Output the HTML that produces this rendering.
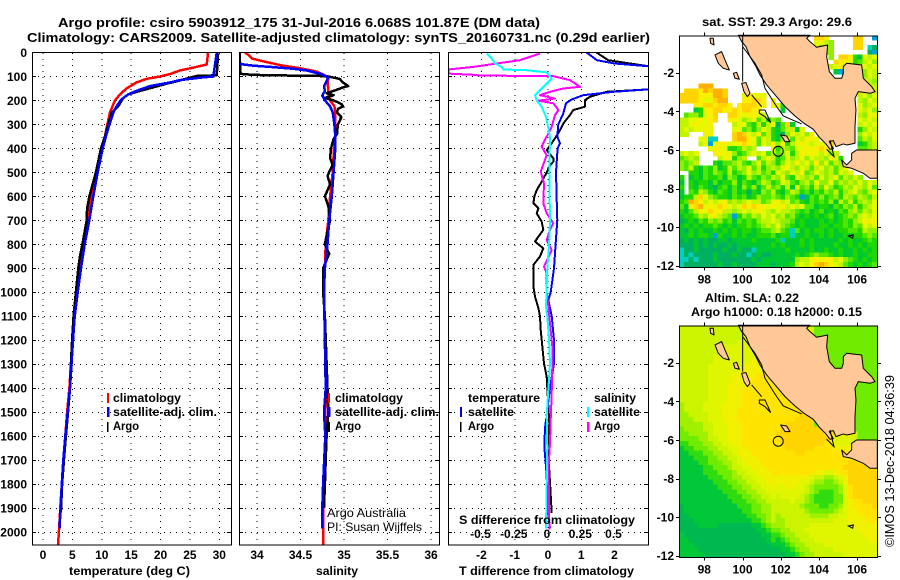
<!DOCTYPE html>
<html>
<head>
<meta charset="utf-8">
<title>Argo profile 5903912_175</title>
<style>
html,body{margin:0;padding:0;background:#fff;width:900px;height:580px;overflow:hidden}
svg{display:block}
text{font-family:"Liberation Sans",sans-serif;fill:#000}
.b{font-weight:700;font-size:12px}
.t{font-weight:700;font-size:13px}
.r{font-size:12px}
</style>
</head>
<body>
<svg id="chart" xmlns="http://www.w3.org/2000/svg" width="900" height="580" viewBox="0 0 900 580">
<defs>
<clipPath id="clip-t"><rect x="32" y="52" width="199" height="493"/></clipPath>
<clipPath id="clip-s"><rect x="239" y="52" width="200" height="493"/></clipPath>
<clipPath id="clip-d"><rect x="448" y="52" width="200" height="493"/></clipPath>
<clipPath id="clip-m1"><rect x="679" y="35" width="198" height="232"/></clipPath>
<clipPath id="clip-m2"><rect x="679" y="325" width="198" height="232"/></clipPath>
</defs>
<rect width="900" height="580" fill="#fff"/>
<text class="t" x="58" y="27" textLength="482" lengthAdjust="spacingAndGlyphs">Argo profile: csiro 5903912_175 31-Jul-2016 6.068S 101.87E (DM data)</text>
<text class="t" x="27" y="42" textLength="623" lengthAdjust="spacingAndGlyphs">Climatology: CARS2009. Satellite-adjusted climatology: synTS_20160731.nc (0.29d earlier)</text>
<g id="plots"></g>
<text class="b" x="69" y="575" textLength="121" lengthAdjust="spacingAndGlyphs">temperature (deg C)</text>
<text class="b" x="316" y="575" textLength="42" lengthAdjust="spacingAndGlyphs">salinity</text>
<text class="b" x="459" y="575" textLength="175" lengthAdjust="spacingAndGlyphs">T difference from climatology</text>
<text class="b" x="459" y="524" textLength="176" lengthAdjust="spacingAndGlyphs">S difference from climatology</text>

<g>
<rect x="107" y="393" width="2" height="10" fill="#f00"/><text class="b" x="113" y="402" textLength="68" lengthAdjust="spacingAndGlyphs">climatology</text>
<rect x="107" y="407" width="2.5" height="10" fill="#00f"/><text class="b" x="113" y="416" textLength="104" lengthAdjust="spacingAndGlyphs">satellite-adj. clim.</text>
<rect x="107" y="422" width="1.5" height="10" fill="#000"/><text class="b" x="113" y="430" textLength="26" lengthAdjust="spacingAndGlyphs">Argo</text>
</g>
<g>
<rect x="328" y="393" width="2" height="10" fill="#f00"/><text class="b" x="335" y="402" textLength="68" lengthAdjust="spacingAndGlyphs">climatology</text>
<rect x="328" y="407" width="2.5" height="10" fill="#00f"/><text class="b" x="335" y="416" textLength="104" lengthAdjust="spacingAndGlyphs">satellite-adj. clim.</text>
<rect x="328" y="422" width="2" height="10" fill="#000"/><text class="b" x="335" y="430" textLength="26" lengthAdjust="spacingAndGlyphs">Argo</text>
</g>
<g>
<text class="b" x="468" y="402" textLength="72" lengthAdjust="spacingAndGlyphs">temperature</text>
<rect x="460" y="407" width="2" height="10" fill="#00f"/><text class="b" x="468" y="416" textLength="46" lengthAdjust="spacingAndGlyphs">satellite</text>
<rect x="460" y="422" width="1.5" height="10" fill="#000"/><text class="b" x="468" y="430" textLength="26" lengthAdjust="spacingAndGlyphs">Argo</text>
<text class="b" x="594" y="402" textLength="42" lengthAdjust="spacingAndGlyphs">salinity</text>
<rect x="587" y="407" width="2.5" height="10" fill="#0ff"/><text class="b" x="594" y="416" textLength="46" lengthAdjust="spacingAndGlyphs">satellite</text>
<rect x="587" y="422" width="2.5" height="10" fill="#f0f"/><text class="b" x="594" y="430" textLength="26" lengthAdjust="spacingAndGlyphs">Argo</text>
</g>
<text class="r" x="327" y="517" textLength="79" lengthAdjust="spacingAndGlyphs">Argo Australia</text>
<text class="r" x="327" y="531" textLength="95" lengthAdjust="spacingAndGlyphs">PI: Susan Wijffels</text>

<text class="b" x="702" y="26" textLength="150" lengthAdjust="spacingAndGlyphs">sat. SST: 29.3 Argo: 29.6</text>
<text class="b" x="705" y="302" textLength="94" lengthAdjust="spacingAndGlyphs">Altim. SLA: 0.22</text>
<text class="b" x="691" y="316" textLength="171" lengthAdjust="spacingAndGlyphs">Argo h1000: 0.18 h2000: 0.15</text>
<text font-size="13" transform="translate(894,547) rotate(-90)" textLength="172" lengthAdjust="spacingAndGlyphs">©IMOS 13-Dec-2018 04:36:39</text>
</svg>

<script>
// ---------- profile data (depth in dbar, temperature in deg C, salinity in PSU) ----------
const yDepthTicks = [0,100,200,300,400,500,600,700,800,900,1000,1100,1200,1300,1400,1500,1600,1700,1800,1900,2000];
const tempTicks = [0,5,10,15,20,25,30];
const salTicks = [34,34.5,35,35.5,36];
const salTickLabels = ['34','34.5','35','35.5','36'];
const diffTicks = [-2,-1,0,1,2];
const sDiffTicks = [-0.5,-0.25,0,0.25,0.5];
const sDiffTickLabels = ['-0.5','-0.25','0','0.25','0.5'];

const climTDepth = [0,50,60,75,90,100,110,125,150,175,200,250,300,350,400,500,600,700,800,900,1000,1100,1200,1300,1400,1500,1600,1700,1800,1900,2000,2055];
const climTValues = [28.1,27.85,26.1,23.3,21.6,19.9,17.6,15.9,14.2,13.1,12.25,11.4,10.95,10.55,9.87,9.0,8.17,7.55,6.86,6.3,5.84,5.4,5.05,4.75,4.5,4.1,3.8,3.46,3.2,2.95,2.7,2.55];
const satTDepth = [0,100,105,115,125,140,160,175,190,200,225,250,300,350,400,500,600,700,800,900,1000,1100,1200,1300,1400,1500,1600,1700,1800,1900,1985];
const satTValues = [29.55,28.98,26.7,23.3,21.6,18.2,15.9,14.5,13.67,13.2,12.5,12,11.3,10.7,10.15,9.3,8.56,7.88,7.09,6.47,5.9,5.4,5.1,4.85,4.6,4.2,3.8,3.45,3.2,3,2.8];
const argoTDepth = [5,95,98,105,120,130,145,160,175,190,200,225,250,300,350,400,500,600,650,700,800,850,900,1000,1100,1200,1300,1400,1500,1600,1700,1800,1920];
const argoTValues = [29.8,29.55,26.15,25,22.75,21.05,18.8,16.5,14.5,13.67,13.4,12.8,11.7,11.1,10.55,9.87,9,7.9,7.5,7.43,6.7,6.3,6.0,5.6,5.2,4.95,4.75,4.6,4.25,3.9,3.55,3.25,3.05];

const climSDepth = [0,10,25,40,55,65,80,95,110,130,150,175,200,225,250,300,350,400,500,600,700,800,900,1000,1400,1500,1700,1900,2055];
const climSValues = [33.86,33.9,33.94,34.11,34.3,34.49,34.69,34.78,34.82,34.81,34.82,34.82,34.84,34.89,34.9,34.9,34.9,34.885,34.87,34.84,34.82,34.79,34.78,34.77,34.8,34.785,34.78,34.76,34.76];
const satSDepth = [48,55,60,68,75,90,105,120,140,160,180,200,225,250,300,350,400,500,600,700,800,900,1000,1400,1500,1600,1800,1900,1985];
const satSValues = [33.8,33.96,34.15,34.42,34.57,34.74,34.82,34.8,34.77,34.78,34.75,34.78,34.84,34.87,34.89,34.9,34.9,34.88,34.86,34.83,34.81,34.78,34.77,34.79,34.77,34.785,34.76,34.75,34.75];
const argoSDepth = [0,88,91,95,97,100,110,125,140,145,155,170,178,190,200,215,225,235,250,270,300,340,360,400,440,470,490,515,550,600,640,700,730,800,840,900,1000,1100,1400,1500,1600,1700,1800,1900];
const argoSValues = [33.8,33.81,33.85,34.11,34.69,34.82,34.95,34.99,35.05,34.99,34.92,34.8,34.88,34.78,34.88,34.97,34.99,34.93,34.92,34.97,34.93,34.92,34.88,34.85,34.84,34.87,34.84,34.81,34.84,34.78,34.82,34.84,34.82,34.78,34.83,34.76,34.76,34.78,34.81,34.82,34.8,34.79,34.78,34.77];

const diffSatTDepth = [0,32,46,57,70,140,154,164,178,196,212,254,300,351,379,400,500,600,700,800,900,1000,1032,1100,1200,1297,1400,1490,1567,1644,1713,1769,1894,1985];
const diffSatTValues = [1.16,1.47,2,3,5,5,3,1.97,1.06,0.71,0.54,0.46,0.31,0.28,0.36,0.29,0.24,0.26,0.28,0.23,0.18,0.08,0.01,0.11,0.18,0.18,0.06,-0.02,-0.09,-0.11,-0.07,-0.04,-0.02,0.06];
const diffArgoTDepth = [0,32,46,57,70,140,154,164,185,199,226,240,261,296,324,358,379,407,442,455,476,500,539,574,600,629,650,671,706,740,768,789,817,851,886,921,976,1018,1067,1100,1158,1200,1297,1353,1400,1547,1672,1867,1922];
const diffArgoTValues = [1.46,1.81,2.47,3.02,5,5,3,1.76,1.26,1.11,1.11,0.76,0.66,0.46,0.36,0.21,0.11,-0.04,0.16,0.16,0.04,-0.04,-0.19,-0.34,-0.41,-0.44,-0.29,-0.34,-0.19,-0.14,-0.29,-0.39,-0.14,-0.24,-0.44,-0.44,-0.44,-0.39,-0.29,-0.24,-0.22,-0.19,-0.12,-0.04,-0.02,0.04,0.01,0.09,0.11];
const diffSatSDepth = [4,25,46,60,71,74,83,108,129,157,178,199,226,268,351,500,700,800,900,1060,1100,1200,1297,1400,1519,1644,1811,1985];
const diffSatSValues = [-0.461,-0.424,-0.398,-0.348,-0.336,-0.16,-0.01,0.028,-0.01,-0.06,-0.098,-0.085,-0.048,-0.015,0.015,0.01,0.015,0.008,-0.005,-0.015,-0.005,0.008,0.015,0.003,-0.01,-0.005,-0.01,-0.015];
const diffArgoSDepth = [4,18,32,46,60,71,88,93,96,99,115,129,143,150,164,178,192,201,212,240,261,310,351,393,428,497,546,629,671,713,740,782,824,893,921,1004,1060,1100,1242,1421,1532,1630,1741,1867,1990];
const diffArgoSValues = [-0.06,-0.135,-0.21,-0.386,-0.561,-0.75,-0.75,-0.561,-0.511,0.04,0.165,0.203,0.241,0.115,0.015,-0.06,0.053,-0.073,0.04,0.078,0.053,0.028,-0.01,-0.048,-0.01,-0.055,-0.03,-0.035,-0.01,0.04,0.015,-0.01,0.028,-0.03,-0.01,-0.01,0.003,0.01,0.035,0.028,0.02,0.015,0.003,0.008,0.01];

// ---------- map data: one character per 0.25 degree cell, '.' = no data ----------
const sstRows = [
"............................887.....88..b",
"............................6754....88...",
"............................6344....88.c0",
"..............................44.......0b",
"...............................4.88721656",
"................................877623564",
"...............................5675...656",
"................................1bb...465",
".....................................5465",
"......................................654",
"....999"+"..............................."+"455",
".888798998"+"..........................."+"6565",
"8888777998...67766"+"..................."+"5646",
"8888766899...77887.7"+"................."+"5465",
"...77887887.788877.762"+"..............."+"6456",
"...12778877878877....1"+"..............."+"6564",
".3442678..88767765.."+"................."+"5476",
"55667678..77645635243"+"................"+"6565",
"5567667....566325256"+"0381"+"............."+"5656",
"5656676....6634"+"2"+"4652"+"135516"+"..........."+"2465",
"55...67....8986573 52".replace(' ','')+"10465647"+"........."+"4656",
"....67cc...899"+"7636"+"52"+"1473"+"65776"+"........"+"3546",
"....56b677667876"+"3657"+"4725"+"67656"+"668"+"....."+"1245",
"......6776223545"+"..."+"7"+"25436"+"6767"+"875"+"....."+"3345",
"5656...7767423"+"5"+"6563"+"5"+"34625"+"76765"+"645"+"........",
"3454....56724"+"5"+".."+"3565"+"2364"+"56465"+"5476"+"2"+".......",
"4345...2133453246"+"3542"+"4657"+"5647"+"4635"+"4"+".......",
"43"+"52"+"13"+"2"+"4"+"1"+"253"+"546"+"3524"+"5467"+"5465"+"3564"+"5356"+"......",
".."+"2213"+"2432"+"5234"+"6453"+"4265"+"4657"+"3465"+"4536"+"56"+".....",
"2."+"1213"+"2231"+"4312"+"5324"+"3546"+"3265"+"4536"+"4563"+"5464"+"...",
"1."+"2122"+"1312"+"2413"+"2135"+"4236"+"5324"+"5364"+"4635"+"4546"+"465",
"2."+"2132"+"1023"+"1314"+"2413"+"5342"+"5163"+"4253"+"6423"+"5465"+"463",
"1."+"3254"+"2132"+"1312"+"0214"+"3521"+"3542"+"3132"+"4352"+"4564"+"356",
"12"+"2586"+"4322"+"1323"+"1243"+"3432"+"432b"+"1324"+"2342"+"5435"+"435",
"23"+"9875"+"6567"+"4545"+"6553"+"4675"+"6342"+"1323"+"2415"+"3524"+"546",
"31"+"7896"+"7687"+"6568"+"7877"+"6767"+"5656"+"3312"+"2132"+"4352"+"456",
"21"+"3576"+"8775"+"5456"+"5676"+"5465"+"5432"+"3123"+"1213"+"2453"+"546",
"12"+"2354"+"6754"+"3b24"+"3546"+"5645"+"3421"+"2121"+"2312"+"3435"+"656",
"01"+"2132"+"4342"+"3132"+"3245"+"5654"+"4312"+"1112"+"1212"+"3245"+"767",
"12"+"1212"+"2321"+"2122"+"3234"+"5464"+"3212"+"1112"+"2122"+"3243"+"656",
"10"+"2121"+"1212"+"1212"+"2123"+"3453"+"2c31"+"2122"+"1212"+"2332"+"544",
"11"+"2122"+"1b21"+"1212"+"1122"+"2312"+"2c11"+"2112"+"1211"+"2122"+"343",
"01"+"0101"+"0011"+"0111"+"1211"+"112c"+"1112"+"1211"+"1112"+"1211"+"232",
"00"+"0101"+"0100"+"1011"+"1111"+"1212"+"1112"+"1211"+"1121"+"1212"+"122",
"c0"+"0100"+"0001"+"0010"+"0c11"+"1111"+"2111"+"1211"+"2112"+"1121"+"212",
"c0"+"c000"+"0100"+"0100"+"c010"+"0111"+"1121"+"2343"+"3212"+"1121"+"122",
"cc"+"0c00"+"0100"+"0000"+"0101"+"1111"+"1145"+"5676"+"7756"+"4321"+"212",
"c0"+"0000"+"0010"+"0100"+"0011"+"1011"+"1256"+"5789"+"8765"+"3212"+"123"
];
const slaRows = [
"55555555555555666666"+"666666663333333333333",
"55555555555555666666"+"666666663333333333333",
"55555555555556666666"+"666666663333333333333",
"55555555555566666666"+"666666663333333333333",
"55555555666666666667"+"777777773333333333333",
"55555555666666666677"+"777777773333333333333",
"55555556666666666777"+"777777773333333333333",
"55555556666666677777"+"777777773333333333333",
"55555566666667777777"+"888888883333333333333",
"55555566666677777788"+"888888883333333333333",
"55555566666777778888"+"888888883333333333333",
"55555566666777788888"+"888888883333333333333",
"55555566667777888888"+"888888883333333333333",
"55555566667778888888"+"888888883333333333333",
"55555566667778888888"+"888888883333333333333",
"55555566667778888888"+"888888883333333333333",
"45555666677778888888"+"888888883333333333333",
"45555666677788888888"+"888888883333333333333",
"44555566677788888888"+"888889993333333333333",
"44455566677788888888"+"888899993333333333333",
"44444556667778888888"+"889999993333333333333",
"34444556667778888888"+"899999999933333333333",
"33444456667778888888"+"99999999"+"998866666"+"3333",
"33334455667778888888"+"899999999998"+"66665"+"3333",
"22333445566778888888"+"899999999988"+"66666"+"8888",
"12233344556677888888"+"889999998888"+"77777"+"8888",
"11222334455677788888"+"888899888888"+"88888"+"8888",
"11122233445567778888"+"888888888888"+"88889"+"9999",
"11112233344566777888"+"888888888888"+"88899"+"9999",
"11111223334556677788"+"888888888888"+"88999"+"9999",
"11111222333455667778"+"888888887766"+"78899"+"9999",
"11111122233445566777"+"777777765544"+"56799"+"9999",
"11111112223344556677"+"777776654433"+"45799"+"9999",
"11111111222334455667"+"667766543333"+"34689"+"9999",
"11111111122233445566"+"666666543222"+"34689"+"9999",
"11111111112223344556"+"566665432222"+"33689"+"9999",
"11111111111222334455"+"555655432222"+"33678"+"8999",
"01111111111122233445"+"555554333223"+"34678"+"8889",
"01111111111112233445"+"555555433333"+"45677"+"8888",
"00111111111111223345"+"455555544445"+"56677"+"7888",
"00011111111111122345"+"445555555555"+"66677"+"7788",
"00001111000000011234"+"445555566666"+"66667"+"7777",
"00000000000000001123"+"344555666666"+"66666"+"7777",
"10000000000000000112"+"234455566666"+"66666"+"6777",
"11000000000000000012"+"123445556666"+"66666"+"6677",
"11100000000000000001"+"112344555566"+"66666"+"6666",
"11110000000000000000"+"011234455555"+"66666"+"6666",
"11111000000000000000"+"001123445555"+"55666"+"6666"
];
const lonTicks = [98,100,102,104,106];
const latTicks = [-2,-4,-6,-8,-10,-12];
const argoLon = 101.87;
const argoLat = -6.068;
const sstPalette = {'0':'#00b060','1':'#00c830','2':'#20d800','3':'#50e800','4':'#90f000','5':'#c0f400','6':'#e4f800','7':'#f8f000','8':'#ffd400','9':'#ffb000','b':'#00a0e0','c':'#00d0c0'};
const slaPalette = {'0':'#00b850','1':'#00c838','2':'#30dc10','3':'#70ec00','4':'#a0f000','5':'#ccf400','6':'#e0f600','7':'#f0f000','8':'#ffe400','9':'#ffd400'};

// ---------- axis functions ----------
const NS = 'http://www.w3.org/2000/svg';
const plots = document.getElementById('plots');
function yD(d){return 52.5+0.2397*d;}
function xT(t){return 43+5.877*t;}
function xS(s){return 257+87*(s-34);}
function xDT(t){return 548+33.25*t;}
function xDS(s){return 548+133*s;}
function mx(lon){return 704.3+(lon-98)*19.1;}
function my(lat,top){return top+37.4+(-2-lat)*19.3;}

function mk(tag,attrs,parent,name){
  const el=document.createElementNS(NS,tag);
  for(const k in attrs){el.setAttribute(k,attrs[k]);}
  
  
  (parent||plots).appendChild(el);
  return el;
}
function label(str,x,y,anchor,name,cls){
  const t=mk('text',{x:x,y:y,'text-anchor':anchor,'class':cls||'b'},plots,name);
  t.textContent=str;
  return t;
}
function series(depth,vals,xf,color,w,clip,name){
  const pts=depth.map((d,i)=>xf(vals[i]).toFixed(1)+','+yD(d).toFixed(1)).join(' ');
  mk('polyline',{points:pts,fill:'none',stroke:color,'stroke-width':w,'clip-path':'url(#'+clip+')','shape-rendering':'crispEdges','stroke-linejoin':'round'},plots,name);
}
function panel(x0,x1,xticks,xf,name){
  const g=mk('g',{},plots,name+'-grid');
  xticks.forEach(v=>{
    mk('line',{x1:xf(v),x2:xf(v),y1:53,y2:545,stroke:'#000','stroke-width':1,'stroke-dasharray':'1 5','shape-rendering':'crispEdges'},g,name+'-gridline-x');
  });
  yDepthTicks.forEach(d=>{
    const y=Math.round(yD(d))+0.5;
    if(d>0){
      mk('line',{x1:x0,x2:x1,y1:y,y2:y,stroke:'#000','stroke-width':1,'stroke-dasharray':'1 5','shape-rendering':'crispEdges'},g,name+'-gridline-y');
      mk('line',{x1:x0,x2:x0+4,y1:y,y2:y,stroke:'#000','stroke-width':1,'shape-rendering':'crispEdges'},g,name+'-tick-left');
      mk('line',{x1:x1-4,x2:x1,y1:y,y2:y,stroke:'#000','stroke-width':1,'shape-rendering':'crispEdges'},g,name+'-tick-right');
    }
  });
}
function frame(x0,x1,name){
  mk('rect',{x:x0+0.5,y:52.5,width:x1-x0,height:492.5,fill:'none',stroke:'#000','stroke-width':1,'shape-rendering':'crispEdges'},plots,name+'-frame');
}

// ---------- profile panels ----------
panel(32,231,tempTicks,xT,'temperature-panel');
panel(239,439,salTicks,xS,'salinity-panel');
panel(448,648,diffTicks,xDT,'difference-panel');

yDepthTicks.forEach(d=>{label(String(d),27,yD(d)+4.5,'end','depth-tick-label');});
tempTicks.forEach(v=>{label(String(v),xT(v),559,'middle','temperature-tick-label');});
salTicks.forEach((v,i)=>{label(salTickLabels[i],xS(v),559,'middle','salinity-tick-label');});
diffTicks.forEach(v=>{label(String(v),xDT(v),559,'middle','t-difference-tick-label');});
sDiffTicks.forEach((v,i)=>{label(sDiffTickLabels[i],xDS(v)-1,538,'middle','s-difference-tick-label');});

series(climTDepth,climTValues,xT,'#f00',2.5,'clip-t','temperature-climatology-line');
series(argoTDepth,argoTValues,xT,'#000',2.5,'clip-t','temperature-argo-line');
series(satTDepth,satTValues,xT,'#00f',2.5,'clip-t','temperature-satellite-line');
series(climSDepth,climSValues,xS,'#f00',2.5,'clip-s','salinity-climatology-line');
series(argoSDepth,argoSValues,xS,'#000',2.5,'clip-s','salinity-argo-line');
series(satSDepth,satSValues,xS,'#00f',2.5,'clip-s','salinity-satellite-line');
series(diffArgoTDepth,diffArgoTValues,xDT,'#000',2,'clip-d','t-difference-argo-line');
series(diffSatTDepth,diffSatTValues,xDT,'#00f',2,'clip-d','t-difference-satellite-line');
series(diffArgoSDepth,diffArgoSValues,xDS,'#f0f',2,'clip-d','s-difference-argo-line');
series(diffSatSDepth,diffSatSValues,xDS,'#0ff',2,'clip-d','s-difference-satellite-line');

frame(32,231,'temperature-panel');
frame(239,439,'salinity-panel');
frame(448,648,'difference-panel');

// ---------- maps ----------
const landShape = "M205,76 L215,95 228,110 240,140 258,170 270,195 290,225 318,258 345,290 375,318 402,340 430,358 448,382 468,402 480,418 490,416 478,395 490,392 498,410 520,402 530,405 555,400 555,350 558,300 555,265 565,245 600,250 615,245 605,230 580,205 575,165 530,160 520,170 520,190 515,205 495,205 478,185 470,140 473,105 440,112 420,95 410,85 420,76 Z M545,430 L560,420 622,420 622,505 600,505 580,490 545,475 520,470 515,450 530,465 545,450 Z M135,135 L155,125 165,150 178,180 160,175 145,160 Z M190,190 L200,187 208,208 195,205 Z M215,220 L228,218 240,250 232,260 222,245 Z M120,85 L130,85 132,105 122,100 Z M332,375 L350,378 360,395 345,395 Z";
const sliverShape = "M245,255 L275,290 M268,300 L285,300 302,338 285,320 268,310 Z M218,76 L218,215 M218,110 L255,160 275,195 285,235 320,290 340,318 395,342 M480,390 L492,440 470,418 M535,678 L550,675 548,685 Z";

function drawMap(rows,palette,top,clip,name){
  const w=198/41, h=231.5/48;
  const g=mk('g',{'clip-path':'url(#'+clip+')','shape-rendering':'crispEdges'},plots,name+'-cells');
  rows.forEach((row,r)=>{
    for(let c=0;c<row.length;c++){
      const col=palette[row[c]];
      if(!col)continue;
      const cell=document.createElementNS(NS,'rect');
      cell.setAttribute('x',(679+c*w).toFixed(1));
      cell.setAttribute('y',(top+r*h).toFixed(1));
      cell.setAttribute('width',(w+0.5).toFixed(1));
      cell.setAttribute('height',(h+0.5).toFixed(1));
      cell.setAttribute('fill',col);
      
      
      g.appendChild(cell);
    }
  });
  const base=mk('g',{transform:'translate(670,'+(top-25.33)+') scale(0.3333)'},plots,name+'-coastline');
  mk('path',{d:landShape,fill:'#ffc896',stroke:'#000','stroke-width':3,'stroke-linejoin':'round'},base,name+'-land');
  mk('path',{d:sliverShape,fill:'none',stroke:'#000','stroke-width':3},base,name+'-contour');
  const cx=mx(argoLon), cy=my(argoLat,top);
  mk('circle',{cx:cx,cy:cy,r:5,fill:'none',stroke:'#000','stroke-width':1},plots,name+'-argo-position');
  mk('rect',{x:679.5,y:top+0.5,width:198,height:231.5,fill:'none',stroke:'#000','stroke-width':1,'shape-rendering':'crispEdges'},plots,name+'-frame');
  lonTicks.forEach(v=>{
    const x=Math.round(mx(v))+0.5;
    mk('line',{x1:x,x2:x,y1:top-3,y2:top,stroke:'#000','stroke-width':1,'shape-rendering':'crispEdges'},plots,name+'-tick-top');
    mk('line',{x1:x,x2:x,y1:top+232,y2:top+235,stroke:'#000','stroke-width':1,'shape-rendering':'crispEdges'},plots,name+'-tick-bottom');
    label(String(v),mx(v),top+248,'middle',name+'-lon-label');
  });
  latTicks.forEach(v=>{
    const y=Math.round(my(v,top))+0.5;
    mk('line',{x1:676,x2:679,y1:y,y2:y,stroke:'#000','stroke-width':1,'shape-rendering':'crispEdges'},plots,name+'-tick-left');
    mk('line',{x1:878,x2:881,y1:y,y2:y,stroke:'#000','stroke-width':1,'shape-rendering':'crispEdges'},plots,name+'-tick-right');
    label(String(v),674,my(v,top)+4.5,'end',name+'-lat-label');
  });
}
drawMap(sstRows,sstPalette,35.3,'clip-m1','sst-map');
drawMap(slaRows,slaPalette,325.3,'clip-m2','sla-map');
</script>
</body>
</html>
